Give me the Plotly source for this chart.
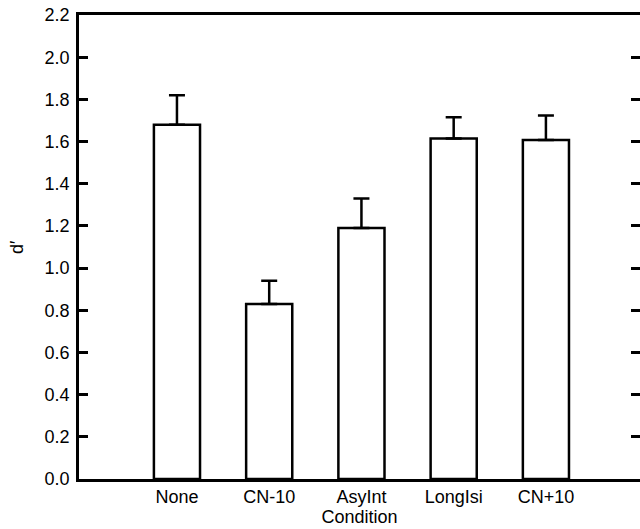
import plotly.graph_objects as go

conditions = ["None", "CN-10", "AsyInt", "LongIsi", "CN+10"]
dprime = [1.68, 0.83, 1.19, 1.615, 1.607]
err_upper = [0.14, 0.11, 0.14, 0.10, 0.117]
ytick_vals = [0.0, 0.2, 0.4, 0.6, 0.8, 1.0, 1.2, 1.4, 1.6, 1.8, 2.0, 2.2]

xpos = list(range(len(conditions)))

fig = go.Figure()
fig.add_trace(go.Bar(
    x=xpos, y=dprime, width=0.5,
    marker=dict(color="white", line=dict(color="black", width=2.5)),
    error_y=dict(type="data", symmetric=False, array=err_upper,
                 arrayminus=[0] * len(err_upper),
                 color="black", thickness=2.5, width=8),
    showlegend=False,
))

font = dict(family="Liberation Sans, Arial, Helvetica, sans-serif", size=18, color="black")

fig.update_layout(
    width=640, height=529,
    margin=dict(l=79, r=0, t=15, b=50),
    paper_bgcolor="white", plot_bgcolor="white",
    font=font,
    xaxis=dict(
        range=[-1.062, 5.02],
        tickmode="array", tickvals=xpos, ticktext=conditions,
        showline=True, linecolor="black", linewidth=2.5, mirror=True,
        ticks="", showgrid=False, zeroline=False,
        title=dict(text="Condition", standoff=1, font=font),
        tickfont=font, automargin=False,
    ),
    yaxis=dict(
        range=[0, 2.2001],
        tickmode="array", tickvals=ytick_vals,
        ticktext=[f"{v:.1f}" for v in ytick_vals],
        showline=True, linecolor="black", linewidth=2.5, mirror="ticks",
        ticks="inside", ticklen=9, tickwidth=2.5, tickcolor="black",
        showgrid=False, zeroline=False, automargin=False,
        tickfont=font, ticklabelstandoff=3, ticklabeloverflow="allow",
    ),
    annotations=[dict(
        text="d′", xref="paper", yref="paper",
        x=(17 - 79) / 561, y=0.5, textangle=-90,
        showarrow=False, font=font, xanchor="center", yanchor="middle",
    )],
)

fig.write_html(
    "out.html",
    config={"displayModeBar": False},
    post_script="document.body.style.margin='0';document.body.style.padding='0';",
)
